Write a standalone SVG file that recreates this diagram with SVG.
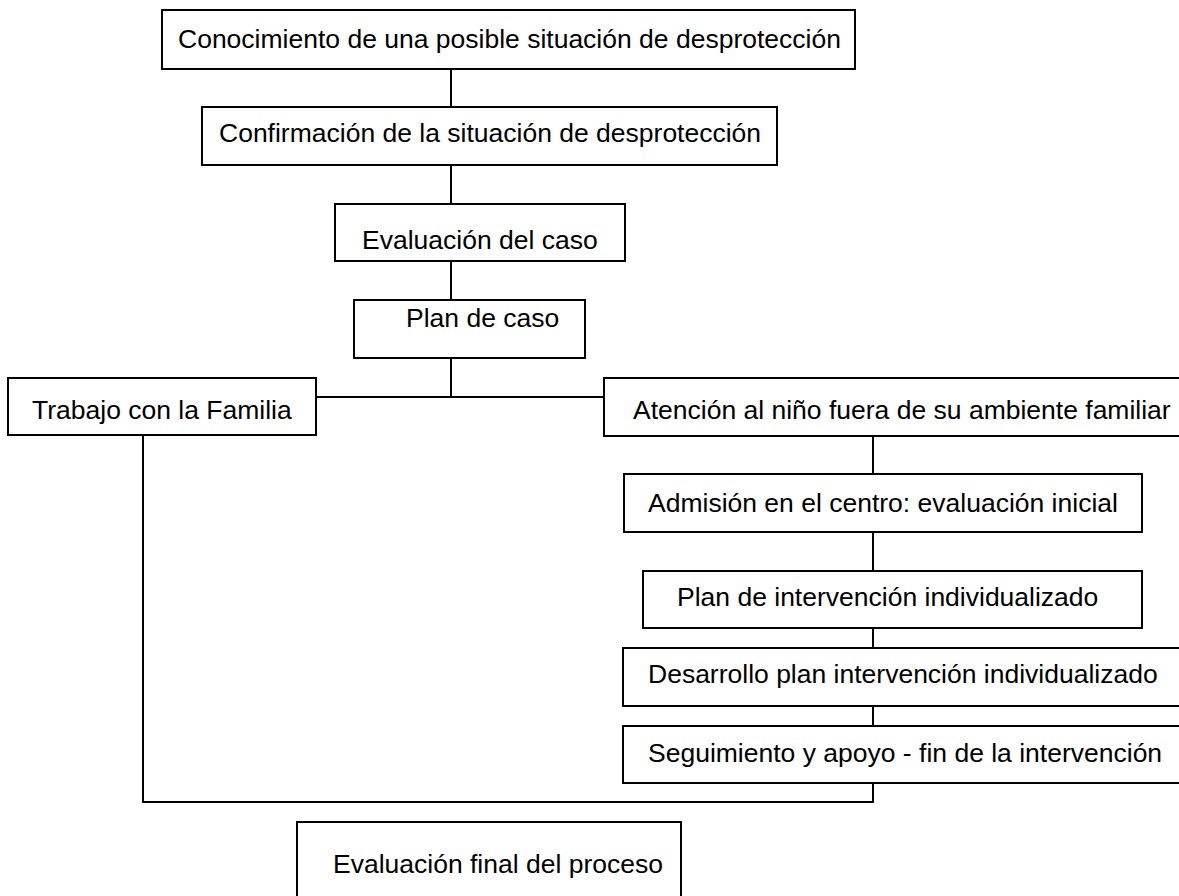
<svg xmlns="http://www.w3.org/2000/svg" width="1179" height="896" viewBox="0 0 1179 896">
<style>
.box{fill:#fff;stroke:#000;stroke-width:2}
.t{font-family:"Liberation Sans",Arial,sans-serif;font-size:26.5px;fill:#000}
.c{fill:none;stroke:#000;stroke-width:2}
</style>
<rect x="0" y="0" width="1179" height="896" fill="#fff"/>
<g id="connectors">
<line class="c" x1="451" y1="69" x2="451" y2="107"/>
<line class="c" x1="451" y1="165" x2="451" y2="204"/>
<line class="c" x1="451" y1="261" x2="451" y2="300"/>
<line class="c" x1="451" y1="358" x2="451" y2="397"/>
<line class="c" x1="316" y1="397" x2="604" y2="397"/>
<line class="c" x1="873" y1="436" x2="873" y2="474"/>
<line class="c" x1="873" y1="532" x2="873" y2="571"/>
<line class="c" x1="873" y1="628" x2="873" y2="648"/>
<line class="c" x1="873" y1="706" x2="873" y2="726"/>
<polyline class="c" points="143,435 143,802 873,802 873,783"/>
</g>
<g id="n1"><rect class="box" x="162" y="10" width="693" height="59"/><text class="t" x="178" y="48">Conocimiento de una posible situación de desprotección</text></g>
<g id="n2"><rect class="box" x="202" y="107" width="575" height="58"/><text class="t" x="219" y="142">Confirmación de la situación de desprotección</text></g>
<g id="n3"><rect class="box" x="335" y="204" width="290" height="57"/><text class="t" x="362" y="249">Evaluación del caso</text></g>
<g id="n4"><rect class="box" x="354" y="300" width="231" height="58"/><text class="t" x="406" y="327">Plan de caso</text></g>
<g id="n5"><rect class="box" x="8" y="378" width="308" height="57"/><text class="t" x="32" y="419">Trabajo con la Familia</text></g>
<g id="n6"><rect class="box" x="604" y="378" width="600" height="58"/><text class="t" x="633" y="419">Atención al niño fuera de su ambiente familiar</text></g>
<g id="n7"><rect class="box" x="624" y="474" width="518" height="58"/><text class="t" x="648" y="512">Admisión en el centro: evaluación inicial</text></g>
<g id="n8"><rect class="box" x="643" y="571" width="499" height="57"/><text class="t" x="677" y="606">Plan de intervención individualizado</text></g>
<g id="n9"><rect class="box" x="623" y="648" width="600" height="58"/><text class="t" x="648" y="683">Desarrollo plan intervención individualizado</text></g>
<g id="n10"><rect class="box" x="623" y="726" width="600" height="57"/><text class="t" x="648" y="762">Seguimiento y apoyo - fin de la intervención</text></g>
<g id="n11"><rect class="box" x="297" y="822" width="384" height="90"/><text class="t" x="333" y="873">Evaluación final del proceso</text></g>
</svg>
